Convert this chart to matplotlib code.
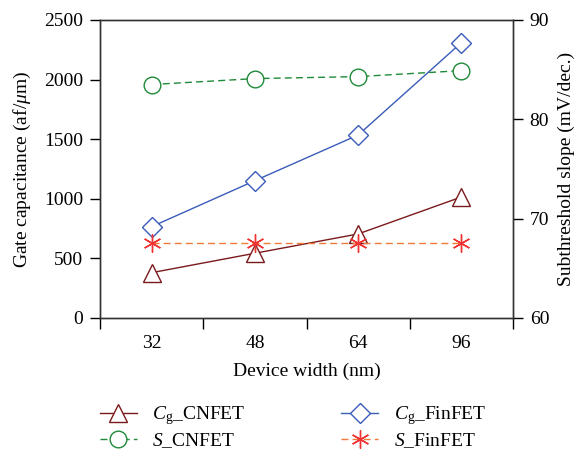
import numpy as np
import matplotlib
matplotlib.use("Agg")
import matplotlib.pyplot as plt

plt.rcParams["font.family"] = ["Liberation Serif", "DejaVu Serif"]
plt.rcParams["mathtext.fontset"] = "custom"
plt.rcParams["mathtext.rm"] = "Liberation Serif"
plt.rcParams["mathtext.it"] = "Liberation Serif:italic"

widths = ["32", "48", "64", "96"]
cg_cnfet = [380, 543, 705, 1015]
cg_finfet = [766, 1152, 1535, 2310]
s_cnfet = [83.5, 84.1, 84.3, 84.9]
s_finfet = [67.5, 67.5, 67.5, 67.5]

x = np.arange(len(widths))
fs = 14

fig = plt.figure(figsize=(5.85, 4.54), dpi=100)
ax = fig.add_axes([0.171, 0.2996, 0.706, 0.6564])
ax2 = ax.twinx()

l1, = ax.plot(x, cg_cnfet, color="#7a1a1c", lw=1.0, marker="^", ms=13,
              mfc="white", mec="#7a1a1c", mew=1.0, label=r"$C_{\mathrm{g}}$_CNFET")
l2, = ax.plot(x, cg_finfet, color="#3a5cb8", lw=1.0, marker="D", ms=10,
              mfc="white", mec="#3a5cb8", mew=1.0, label=r"$C_{\mathrm{g}}$_FinFET")
l3, = ax2.plot(x, s_cnfet, color="#1f8a3a", lw=1.0, ls=(0, (5, 3)), marker="o", ms=12,
               mfc="white", mec="#1f8a3a", mew=1.0, label=r"$S$_CNFET")
l4, = ax2.plot(x, s_finfet, color="#f07a3a", lw=1.0, ls=(0, (5, 3)), marker=(6, 2, 0), ms=13,
               mec="#f03232", mew=1.0, label=r"$S$_FinFET")

ax.set_xlim(-0.5, 3.5)
ax.set_ylim(0, 2500)
ax2.set_ylim(60, 90)
ax.set_yticks([0, 500, 1000, 1500, 2000, 2500])
ax2.set_yticks([60, 70, 80, 90])

# category labels sit between the boundary ticks
ax.set_xticks(np.arange(-0.5, 4, 1.0))
ax.set_xticklabels([])
ax.set_xticks(x, minor=True)
ax.set_xticklabels(widths, minor=True)
ax.tick_params(axis="x", which="major", direction="out", length=8, width=1.0)
ax.tick_params(axis="x", which="minor", length=0, pad=12, labelsize=fs)
ax.tick_params(axis="y", direction="out", length=7, width=1.0, labelsize=fs, pad=5)
ax2.tick_params(axis="y", direction="out", length=7, width=1.0, labelsize=fs, pad=5)

for a in (ax, ax2):
    for sp in a.spines.values():
        sp.set_linewidth(1.0)
        sp.set_color("#333333")

ax.set_xlabel("Device width (nm)", fontsize=fs, labelpad=8)
ax.set_ylabel(r"Gate capacitance (af/$\mu$m)", fontsize=fs, labelpad=8)
ax2.set_ylabel("Subthreshold slope (mV/dec.)", fontsize=fs, labelpad=6)

fig.legend(handles=[l1, l3, l2, l4], loc="upper left", bbox_to_anchor=(0.154, 0.131),
           ncol=2, frameon=False, fontsize=fs, handlelength=1.9, handletextpad=0.8,
           columnspacing=4.9, labelspacing=0.2, borderpad=0)

fig.savefig("out.png", dpi=100)
